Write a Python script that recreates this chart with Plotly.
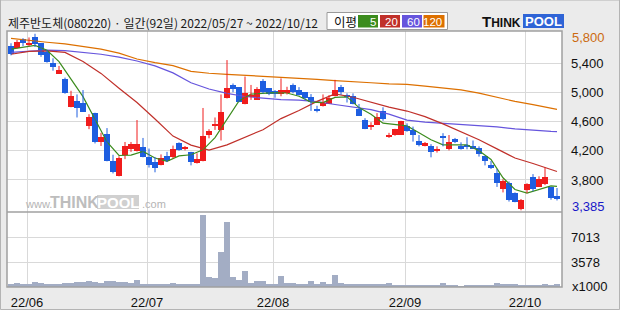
import pandas as pd
import plotly.graph_objects as go

# ---------------- data ----------------
title_text = "제주반도체(080220) · 일간(92일) 2022/05/27 ~ 2022/10/12"
holidays = ["2022-06-01", "2022-06-06", "2022-08-15", "2022-09-09",
            "2022-09-12", "2022-10-03", "2022-10-10"]
dates = [d for d in pd.bdate_range("2022-05-27", "2022-10-12")
         if d.strftime("%Y-%m-%d") not in holidays]

opens = [5635, 5610, 5730, 5640, 5760, 5670, 5550, 5405, 5255, 5180,
         4805, 4880, 4855, 4545, 4710, 4325, 4430, 4060, 3850, 4145,
         4220, 4200, 4255, 4115, 4050, 4000, 4130, 4110, 4300, 4220,
         4185, 4035, 4060, 4415, 4545, 4490, 4915, 5100, 5070, 4845,
         4935, 4900, 5155, 5055, 5020, 4970, 4995, 5100, 5030, 5000,
         4930, 4770, 4815, 4840, 4955, 5070, 4965, 4950, 4770, 4615,
         4525, 4555, 4745, 4395, 4410, 4420, 4540, 4485, 4335, 4260,
         4265, 4205, 4405, 4220, 4365, 4265, 4275, 4265, 4235, 4130,
         4010, 3895, 3680, 3755, 3620, 3405, 3665, 3835, 3710, 3745,
         3705, 3575]
highs = [5670, 5715, 5740, 5750, 5800, 5670, 5575, 5465, 5360, 5200,
         5020, 4970, 5030, 4700, 4720, 4445, 4510, 4145, 4125, 4320,
         4320, 4620, 4375, 4230, 4115, 4150, 4185, 4270, 4315, 4265,
         4185, 4165, 4785, 4495, 4655, 4970, 5440, 5120, 5070, 5215,
         5100, 5070, 5180, 5055, 5030, 5190, 5075, 5120, 5070, 5000,
         4975, 4815, 4970, 4960, 5170, 5100, 4985, 4985, 4840, 4645,
         4590, 4715, 4795, 4445, 4500, 4610, 4575, 4530, 4415, 4320,
         4290, 4260, 4440, 4415, 4375, 4315, 4385, 4340, 4260, 4130,
         4060, 3950, 3810, 3780, 3630, 3540, 3755, 3880, 3850, 3970,
         3705, 3690]
lows = [5505, 5600, 5630, 5630, 5620, 5485, 5405, 5295, 5255, 4980,
        4795, 4655, 4735, 4495, 4300, 4265, 4055, 3890, 3850, 4085,
        4185, 4190, 4110, 3970, 3905, 4000, 4045, 4095, 4200, 4205,
        4000, 4025, 4055, 4370, 4485, 4340, 4915, 5000, 4865, 4835,
        4895, 4895, 4985, 4960, 4925, 4945, 4970, 4985, 4955, 4900,
        4745, 4725, 4805, 4840, 4945, 4965, 4860, 4835, 4675, 4495,
        4485, 4555, 4610, 4375, 4405, 4415, 4460, 4325, 4260, 4260,
        4110, 4175, 4260, 4205, 4305, 4215, 4220, 4225, 4120, 4000,
        3950, 3705, 3630, 3505, 3495, 3385, 3620, 3645, 3705, 3730,
        3530, 3520]
closes = [5530, 5685, 5680, 5670, 5660, 5515, 5420, 5350, 5305, 4995,
          4950, 4790, 4735, 4665, 4325, 4390, 4065, 3905, 4105, 4265,
          4290, 4290, 4120, 4010, 3970, 4105, 4060, 4230, 4215, 4250,
          4040, 4090, 4405, 4465, 4570, 4735, 5060, 5045, 4870, 4990,
          4965, 5045, 5010, 4975, 4970, 5025, 5030, 5000, 4965, 4920,
          4870, 4740, 4855, 4920, 5030, 5000, 4945, 4840, 4680, 4500,
          4555, 4660, 4640, 4415, 4500, 4610, 4465, 4410, 4285, 4305,
          4180, 4220, 4385, 4320, 4315, 4220, 4260, 4230, 4160, 4065,
          3970, 3755, 3780, 3530, 3505, 3530, 3745, 3675, 3810, 3835,
          3560, 3540]
volumes = [596, 734, 596, 596, 826, 734, 596, 596, 505, 734,
           734, 871, 780, 963, 871, 642, 963, 963, 871, 780,
           642, 1100, 596, 596, 596, 596, 505, 688, 505, 505,
           596, 505, 10214, 1558, 1421, 4993, 9253, 1558, 1146, 2337,
           734, 1009, 1009, 596, 596, 1696, 734, 734, 596, 596,
           1009, 596, 871, 596, 1833, 734, 596, 596, 596, 596,
           505, 505, 596, 734, 460, 460, 460, 460, 460, 460,
           460, 460, 734, 460, 460, 322, 460, 460, 460, 460,
           460, 734, 596, 596, 596, 460, 460, 460, 460, 596,
           460, 596]

ma_idx = list(range(0, 91, 3)) + [91]
ma20_vals = [5520, 5560, 5566, 5545, 5420, 5258, 5055, 4860, 4635, 4400,
             4277, 4208, 4281, 4385, 4488, 4640, 4750, 4875, 4978, 4932,
             4860, 4797, 4743, 4667, 4567, 4460, 4350, 4225, 4100, 4025,
             3945, 3916]
ma60_vals = [5545, 5565, 5576, 5570, 5547, 5520, 5480, 5428, 5360, 5265,
             5130, 5045, 4985, 4942, 4920, 4900, 4893, 4872, 4833, 4798,
             4762, 4700, 4620, 4592, 4575, 4560, 4550, 4526, 4500, 4478,
             4465, 4462]
ma120_vals = [5738, 5708, 5684, 5662, 5623, 5589, 5535, 5455, 5405, 5365,
              5285, 5260, 5246, 5233, 5220, 5208, 5192, 5175, 5158, 5147,
              5130, 5114, 5108, 5084, 5060, 5032, 4988, 4928, 4875, 4830,
              4780, 4765]
ma5_idx = list(range(0, 91, 2)) + [91]
ma5_vals = [5590, 5620, 5640, 5575, 5420, 5180, 4940, 4630, 4320, 4135,
            4140, 4190, 4100, 4055, 4130, 4145, 4212, 4380, 4622, 4880,
            4975, 4986, 4995, 4990, 4945, 4865, 4858, 4930, 4938, 4790,
            4700, 4577, 4560, 4540, 4445, 4350, 4281, 4281, 4280, 4200,
            4080, 3830, 3670, 3621, 3670, 3718, 3712]

price_ticks = [3800, 4200, 4600, 5000, 5400]
vol_ticks = [3578, 7013]
max_price, min_price = 5800, 3385
legend_labels = ["5", "20", "60", "120"]

# ---------------- styles ----------------
UP, DOWN = "#f01c1c", "#1e5ee0"
MA_COLORS = ["#3c8c1e", "#c0302a", "#6655dd", "#dd7000"]
VOL_COLOR = "#a3adc4"
GRID = "#d9d9d9"
FRAME = "#a0a0a0"
NUMFONT = "Liberation Sans"
KFONT = "Noto Sans CJK KR"

L, R, T, B = 7, 562, 31, 287          # plot area in pixels
def px(x): return (x - L) / (R - L)
def py(y): return (B - y) / (B - T)
SPLIT = py(212)

idx = list(range(len(dates)))
fig = go.Figure()

# moving average lines
for xs, vals, col in [(ma_idx, ma120_vals, MA_COLORS[3]), (ma_idx, ma60_vals, MA_COLORS[2]),
                      (ma_idx, ma20_vals, MA_COLORS[1]), (ma5_idx, ma5_vals, MA_COLORS[0])]:
    fig.add_trace(go.Scatter(x=xs, y=vals, mode="lines", line=dict(color=col, width=1.2),
                             yaxis="y", hoverinfo="skip"))

# candles
for up, col in [(True, UP), (False, DOWN)]:
    sel = [i for i in idx if (closes[i] >= opens[i]) == up]
    wx, wy = [], []
    for i in sel:
        wx += [i, i, None]
        wy += [lows[i], highs[i], None]
    fig.add_trace(go.Scatter(x=wx, y=wy, mode="lines", line=dict(color=col, width=1),
                             yaxis="y", hoverinfo="skip"))
    fig.add_trace(go.Bar(x=sel, base=[min(opens[i], closes[i]) for i in sel],
                         y=[max(abs(closes[i] - opens[i]), 14) for i in sel],
                         width=0.84, marker=dict(color=col, line=dict(width=0)),
                         yaxis="y", hoverinfo="skip"))

# volume
fig.add_trace(go.Bar(x=idx, y=volumes, width=0.84,
                     marker=dict(color=VOL_COLOR, line=dict(width=0)),
                     yaxis="y2", hoverinfo="skip"))

# month ticks
tick_pos, tick_txt = [], []
for i, d in enumerate(dates):
    if i > 0 and d.month != dates[i - 1].month:
        tick_pos.append(i - 1 / 3)
        tick_txt.append(d.strftime("%y/%m"))

shapes = [
    dict(type="rect", xref="paper", yref="paper", x0=px(0.5), x1=px(619.5), y0=py(309.5), y1=py(0),
         line=dict(color="#b4b4b4", width=1), layer="below"),
    dict(type="rect", xref="paper", yref="paper", x0=0, x1=1, y0=0, y1=1,
         line=dict(color=FRAME, width=1.5), layer="above"),
    dict(type="line", xref="paper", yref="paper", x0=0, x1=1, y0=SPLIT, y1=SPLIT,
         line=dict(color=FRAME, width=1.5), layer="above"),
    dict(type="rect", xref="paper", yref="paper", x0=px(327), x1=px(447.5), y0=py(29.5), y1=py(12.5),
         fillcolor="white", line=dict(color="#9a9a9a", width=1)),
    dict(type="rect", xref="paper", yref="paper", x0=px(523), x1=px(564), y0=py(28), y1=py(14),
         fillcolor="#2f64d6", line=dict(width=0)),
    dict(type="rect", xref="paper", yref="paper", x0=px(97), x1=px(139), y0=py(209), y1=py(195),
         fillcolor="#d0d0d0", line=dict(width=0)),
]
box_x = [(358, 378), (380, 400), (402, 422), (423.5, 444.5)]
for (x0, x1), col in zip(box_x, MA_COLORS):
    shapes.append(dict(type="rect", xref="paper", yref="paper", x0=px(x0), x1=px(x1),
                       y0=py(27.5), y1=py(15), fillcolor=col, line=dict(width=0)))

ann = [
    dict(text=title_text, x=px(6), y=py(22), xanchor="left", yanchor="middle",
         font=dict(family=KFONT, size=12, color="#1a1a1a")),
    dict(text="이평", x=px(332), y=py(21), xanchor="left", yanchor="middle",
         font=dict(family=KFONT, size=12.5, color="#111")),
    dict(text="<b>T</b><b><span style='font-size:12px'>HINK</span></b>", x=px(480), y=py(21.5),
         xanchor="left", yanchor="middle", font=dict(family=NUMFONT, size=15, color="#111")),
    dict(text="<b>POOL</b>", x=px(543.5), y=py(21.5), xanchor="center", yanchor="middle",
         font=dict(family=NUMFONT, size=13, color="white")),
    dict(text="www.", x=px(23), y=py(204), xanchor="left", yanchor="middle",
         font=dict(family=NUMFONT, size=11, color="#b4b4b4")),
    dict(text="<b>THINK</b>", x=px(48), y=py(202), xanchor="left", yanchor="middle",
         font=dict(family=NUMFONT, size=16, color="#bdbdbd")),
    dict(text="<b>POOL</b>", x=px(118), y=py(202), xanchor="center", yanchor="middle",
         font=dict(family=NUMFONT, size=15, color="white")),
    dict(text=".com", x=px(140), y=py(204), xanchor="left", yanchor="middle",
         font=dict(family=NUMFONT, size=11, color="#b4b4b4")),
    dict(text=f"{max_price:,}", xref="paper", yref="y", x=1, y=max_price, xanchor="left",
         yanchor="middle", xshift=8, yshift=-4, font=dict(family=NUMFONT, size=13, color="#cc6a10")),
    dict(text=f"{min_price:,}", xref="paper", yref="y", x=1, y=min_price, xanchor="left",
         yanchor="middle", xshift=8, yshift=4, font=dict(family=NUMFONT, size=13, color="#1818c8")),
    dict(text="x1000", x=1, y=py(286), xanchor="left", yanchor="middle", xshift=8,
         font=dict(family=NUMFONT, size=13, color="#111")),
]
for (x0, x1), lab in zip(box_x, legend_labels):
    ann.append(dict(text=lab, x=px(x1 - 0.5), y=py(21.5), xanchor="right", yanchor="middle",
                    font=dict(family=NUMFONT, size=11.5, color="white")))
for a in ann:
    a.setdefault("xref", "paper")
    a.setdefault("yref", "paper")
    a["showarrow"] = False

fig.update_layout(
    width=620, height=310, autosize=False,
    margin=dict(l=L, r=620 - R, t=T, b=310 - B, pad=0),
    paper_bgcolor="#ebebeb", plot_bgcolor="white",
    barmode="overlay", showlegend=False, bargap=0,
    xaxis=dict(anchor="y2", range=[-2 / 3, 91 + 5 / 6], tickvals=tick_pos, ticktext=tick_txt,
               showgrid=True, gridcolor=GRID, gridwidth=1, zeroline=False, ticks="",
               showline=False, ticklabelstandoff=6, automargin=False,
               tickfont=dict(family=NUMFONT, size=13, color="#111")),
    yaxis=dict(domain=[SPLIT, 1], range=[3362, 5838], side="right", anchor="x", tickvals=price_ticks,
               tickformat=",", showgrid=True, gridcolor=GRID, zeroline=False, ticks="",
               automargin=False,
               ticklabelstandoff=8, tickfont=dict(family=NUMFONT, size=13, color="#111")),
    yaxis2=dict(domain=[0, SPLIT], range=[130, 10600], side="right", anchor="x",
                tickvals=vol_ticks, ticktext=[str(v) for v in vol_ticks], automargin=False,
                showgrid=True, gridcolor=GRID, zeroline=False, ticks="",
                ticklabelstandoff=8, tickfont=dict(family=NUMFONT, size=13, color="#111")),
    shapes=shapes, annotations=ann,
)

fig.write_html("out.html")
